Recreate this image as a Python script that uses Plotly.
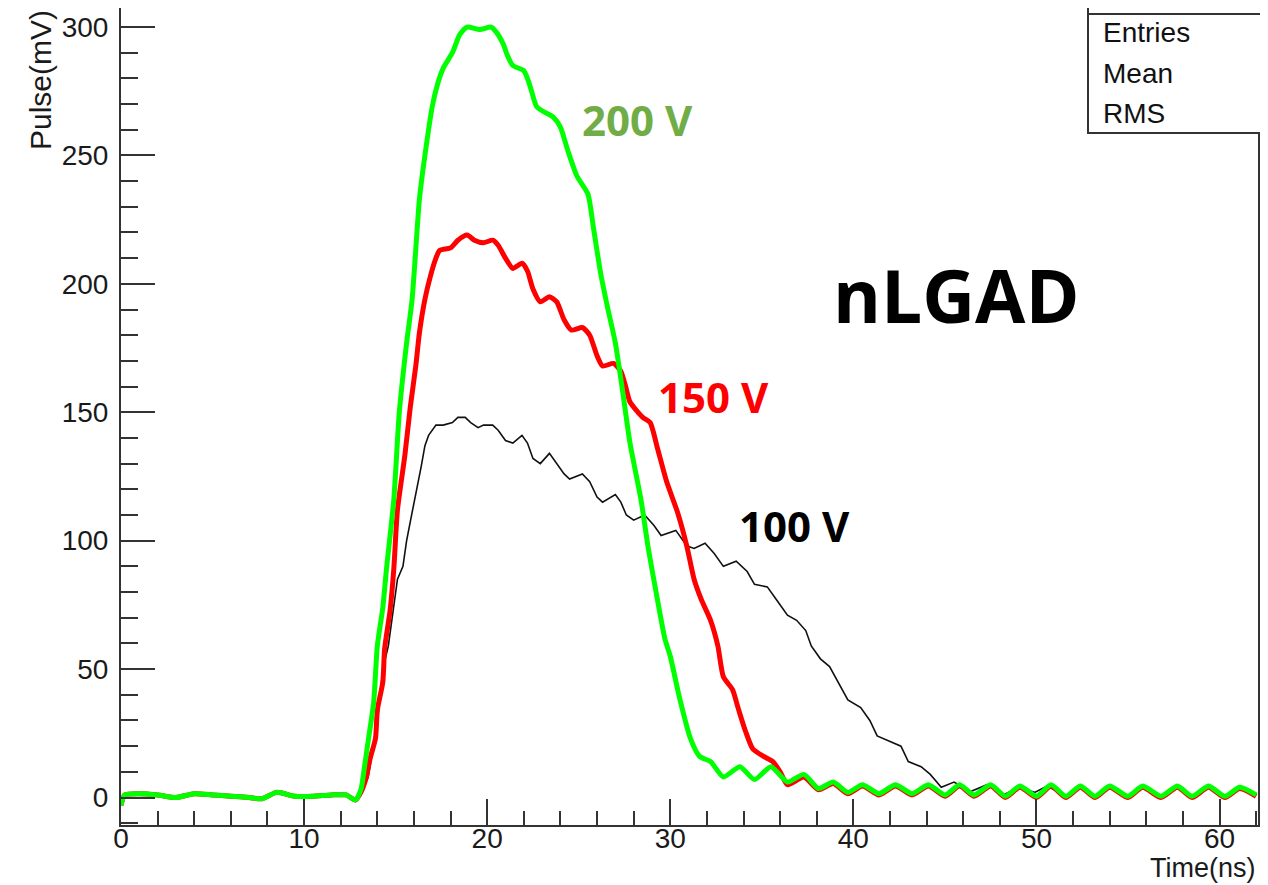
import plotly.graph_objects as go

# ---------------- data ----------------
base_x = [0.0, 0.2, 1.0, 2.0, 3.0, 4.0, 5.0, 6.0, 7.0, 7.7, 8.5, 9.5, 10.5, 11.5, 12.3, 12.8]
base_y = [-3, 1, 1.5, 1, 0, 1.5, 1, 0.5, 0, -0.5, 2, 0.5, 0.5, 1, 1, -1]

tail_x = [36.4, 37.3, 38.1, 38.9, 39.7, 40.5, 41.4, 42.3, 43.2, 44.1, 45.0, 45.8, 46.6, 47.5,
          48.3, 49.1, 50.0, 50.8, 51.6, 52.4, 53.2, 54.0, 55.0, 55.8, 56.8, 57.7, 58.5, 59.4,
          60.3, 61.1, 62.0]
tail_y = [6, 9, 3.5, 6, 2, 5, 1.5, 5, 1.5, 5, 1, 5, 1, 5,
          0.5, 4.5, 0.5, 5, 0.5, 4.5, 0.5, 4.5, 0.5, 4.5, 0.5, 4.5, 0.5, 4.5,
          0.5, 4, 1]

g200_x = base_x + [13.1, 13.3, 13.5, 13.8, 14.0, 14.3, 14.5, 14.9, 15.2, 15.6, 15.9, 16.3, 16.6,
                   17.0, 17.3, 17.6, 18.1, 18.5, 18.9, 19.6, 20.2, 20.5, 20.9, 21.1, 21.4, 22.0,
                   22.3, 22.7, 23.1, 23.6, 24.0, 24.4, 24.9, 25.5, 25.8, 26.2, 26.6, 27.0, 27.4,
                   27.8, 28.4, 28.8, 29.3, 29.7, 30.0, 30.5, 31.1, 31.6, 32.2, 32.9, 33.8, 34.6,
                   35.5] + tail_x
g200_y = base_y + [3, 12, 22, 37, 59, 74, 89, 116, 150, 177, 194, 233, 250,
                   269, 278, 284, 290, 297, 300, 299, 300, 298, 293, 289, 285, 283,
                   278, 269, 267, 265, 261, 252, 242, 235, 222, 204, 190, 177, 158,
                   138, 116, 97, 77, 62, 55, 39, 23, 16, 14, 8, 12, 7,
                   12] + tail_y

r150_x = base_x + [13.1, 13.4, 13.6, 13.9, 14.0, 14.3, 14.4, 14.7, 14.9, 15.1, 15.5, 15.8, 16.1,
                   16.3, 16.6, 16.9, 17.2, 17.4, 18.0, 18.4, 18.9, 19.3, 19.8, 20.3, 20.6, 21.0,
                   21.4, 21.9, 22.2, 22.5, 22.9, 23.4, 23.8, 24.2, 24.6, 25.2, 25.6, 26.0, 26.3,
                   26.9, 27.3, 27.6, 27.8, 28.5, 28.9, 29.3, 29.8, 30.4, 30.9, 31.3, 31.7, 32.2,
                   32.6, 32.9, 33.4, 33.7, 34.1, 34.5, 35.1, 35.6, 36.0] + tail_x
r150_y = base_y + [2, 8, 15, 23, 34, 45, 58, 73, 89, 112, 133, 152, 168,
                   181, 194, 203, 210, 213, 214, 217, 219, 217, 216, 217, 215, 210,
                   206, 208, 205, 198, 193, 195, 193, 186, 182, 183, 180, 172, 168,
                   169, 166, 159, 154, 148, 146, 136, 123, 111, 98, 85, 77, 69,
                   59, 47, 42, 35, 26, 19, 16, 14, 10] + [5, 8, 3, 5.5, 1.5, 4.5, 1, 4.5, 1, 4.5, 0.5, 4.5, 0.5, 4.5,
                   0, 4, 0, 4.5, 0, 4, 0, 4, 0, 4, 0, 4, 0, 4,
                   0, 3.5, 0.5]

b100_x = base_x + [13.1, 13.5, 14.0, 14.3, 14.6, 14.9, 15.1, 15.4, 15.6, 15.9, 16.2, 16.4, 16.6,
                   16.8, 17.2, 17.6, 18.1, 18.4, 18.8, 19.1, 19.5, 19.8, 20.3, 20.6, 21.0, 21.4,
                   21.9, 22.2, 22.5, 22.9, 23.4, 23.8, 24.2, 24.5, 25.2, 25.6, 26.0, 26.3, 27.0,
                   27.3, 27.6, 28.0, 28.6, 29.1, 29.5, 30.3, 30.9, 31.3, 31.9, 32.4, 32.9, 33.6,
                   34.2, 34.6, 35.3, 35.8, 36.4, 36.9, 37.4, 37.7, 38.2, 38.7, 39.3, 39.7, 40.4,
                   40.9, 41.3, 42.0, 42.6, 43.0, 43.7, 44.2, 44.8, 45.5, 46.4, 47.3, 48.2, 49.0,
                   49.9, 50.6] + tail_x[18:]
b100_y = base_y + [1, 8, 29, 50, 59, 74, 85, 90, 100, 111, 121, 129, 137,
                   141, 145, 145, 146, 148, 148, 146, 144, 145, 145, 143, 139, 138,
                   141, 138, 132, 130, 134, 130, 126, 124, 126, 123, 117, 115, 118,
                   115, 110, 108, 110, 106, 102, 104, 98, 97, 99, 95, 90, 92,
                   88, 83, 82, 77, 71, 69, 65, 59, 54, 51, 43, 38, 35,
                   30, 24, 22, 20, 14, 12, 9, 4, 6, 2.3, 5, 1, 4,
                   2, 4.5] + tail_y[18:]

x_ticks = [0, 10, 20, 30, 40, 50, 60]
y_ticks = [0, 50, 100, 150, 200, 250, 300]

# ---------------- figure ----------------
fig = go.Figure()
fig.add_trace(go.Scatter(x=b100_x, y=b100_y, mode="lines", name="100 V",
                         line=dict(color="#111111", width=1.6)))
fig.add_trace(go.Scatter(x=r150_x, y=r150_y, mode="lines", name="150 V",
                         line=dict(color="#ff0000", width=5, shape="spline", smoothing=0.6)))
fig.add_trace(go.Scatter(x=g200_x, y=g200_y, mode="lines", name="200 V",
                         line=dict(color="#00ff00", width=5, shape="spline", smoothing=0.6)))

tick_font = dict(family="Liberation Sans, Arial, sans-serif", size=28, color="#1a1a1a")

fig.update_xaxes(range=[0, 62.1], tickvals=x_ticks, ticks="inside", ticklen=26, tickwidth=2,
                 tickcolor="#333333", showline=True, linecolor="#333333", linewidth=2,
                 mirror=True, showgrid=False, zeroline=False, tickfont=tick_font,
                 automargin=False, ticklabelstandoff=-13,
                 minor=dict(dtick=2, ticks="inside", ticklen=14, tickwidth=2, tickcolor="#333333",
                            showgrid=False))
fig.update_yaxes(range=[-10.7, 307.4], tickvals=y_ticks, ticks="inside", ticklen=34, tickwidth=2,
                 tickcolor="#333333", showline=True, linecolor="#333333", linewidth=2,
                 mirror=True, showgrid=False, zeroline=False, tickfont=tick_font,
                 automargin=False, ticklabelstandoff=5,
                 minor=dict(dtick=10, ticks="inside", ticklen=17, tickwidth=2, tickcolor="#333333",
                            showgrid=False))

lab_font = "Open Sans, Lato, sans-serif"
annotations = [
    dict(x=28.2, y=264, text="<b>200 V</b>", font=dict(family=lab_font, size=42, color="#70ad47")),
    dict(x=32.35, y=156, text="<b>150 V</b>", font=dict(family=lab_font, size=42, color="#ff0000")),
    dict(x=36.8, y=106, text="<b>100 V</b>", font=dict(family=lab_font, size=42, color="#000000")),
    dict(x=45.6, y=196, text="<b>nLGAD</b>", font=dict(family=lab_font, size=73, color="#000000")),
]
for a in annotations:
    a.update(xref="x", yref="y", showarrow=False, xanchor="center", yanchor="middle")

# plot area in page pixels: x 121..1258, y 8..825 (page has an 8px body margin)
PX0, PW, PY1, PH = 121, 1137, 825, 817


def px(xp):
    return (xp - PX0) / PW


def py(yp):
    return (PY1 - yp) / PH


annotations.append(dict(xref="paper", yref="paper", x=1.0, y=py(885), xanchor="right", yanchor="bottom",
                        text="Time(ns)", showarrow=False,
                        font=dict(family="Liberation Sans, Arial, sans-serif", size=27, color="#1a1a1a")))
annotations.append(dict(xref="paper", yref="paper", x=px(40), y=py(8), xanchor="center", yanchor="top",
                        text="Pulse(mV)", textangle=-90, showarrow=False,
                        font=dict(family="Liberation Sans, Arial, sans-serif", size=30, color="#1a1a1a")))

for txt, yy in [("Entries", 33), ("Mean", 73), ("RMS", 113)]:
    annotations.append(dict(xref="paper", yref="paper", x=px(1101), y=py(yy),
                            xanchor="left", yanchor="middle", text=txt, showarrow=False,
                            font=dict(family="Liberation Sans, Arial, sans-serif", size=28,
                                      color="#111111")))

shapes = [
    dict(type="rect", xref="paper", yref="paper", x0=px(1088), x1=px(1275),
         y0=py(133), y1=py(6), line=dict(color="#333333", width=2),
         fillcolor="white", layer="above"),
    dict(type="line", xref="paper", yref="paper", x0=px(1088), x1=px(1275),
         y0=py(14), y1=py(14), line=dict(color="#333333", width=2), layer="above"),
]

fig.update_layout(width=1260, height=877, margin=dict(l=113, r=10, t=0, b=60, autoexpand=False),
                  plot_bgcolor="white", paper_bgcolor="white", showlegend=False,
                  annotations=annotations, shapes=shapes)

fig.write_html("out.html")
